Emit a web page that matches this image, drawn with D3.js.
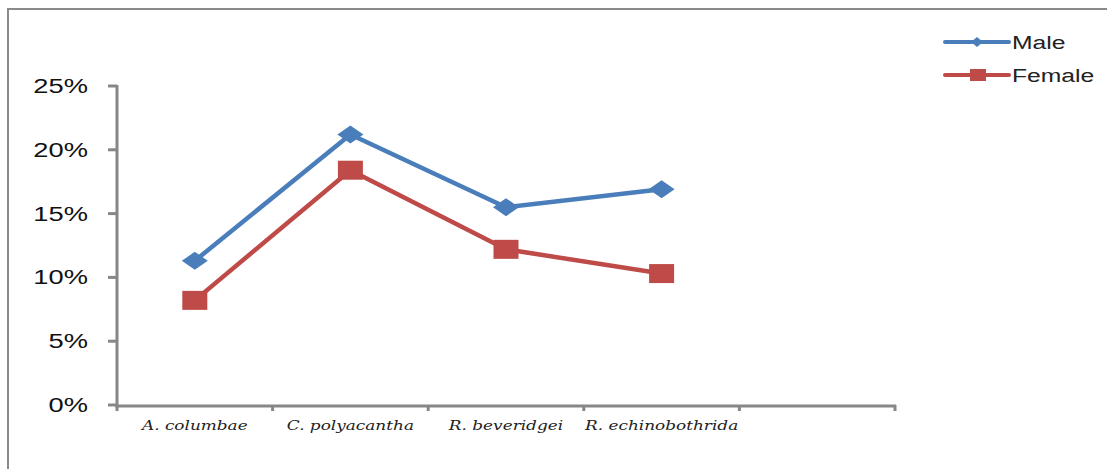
<!DOCTYPE html>
<html>
<head>
<meta charset="utf-8">
<script src="https://cdn.jsdelivr.net/npm/d3@7"></script>
<style>
  html, body { margin: 0; padding: 0; background: #fff; }
  svg { display: block; }
</style>
</head>
<body>
<svg id="chart" width="1107" height="469"></svg>
<script>
// Prevalence by species and sex
const categories = ["A. columbae", "C. polyacantha", "R. beveridgei", "R. echinobothrida"];
const slots = categories.concat([""]);           // axis keeps one empty slot at the end
const maleValues = [0.113, 0.212, 0.155, 0.169];
const femaleValues = [0.082, 0.184, 0.122, 0.103];
const yTicks = [0, 0.05, 0.10, 0.15, 0.20, 0.25];
const seriesNames = ["Male", "Female"];
const seriesColors = ["#4a7ebb", "#be4b48"];

const svg = d3.select("#chart");
const axisColor = "#878787";
const sx = 1.3; // horizontal stretch applied to text

// outer frame (top and left edges)
svg.append("path")
  .attr("d", "M8,469 L8,9 L1107,9")
  .attr("fill", "none")
  .attr("stroke", "#8a8a8a")
  .attr("stroke-width", 2);

const x = d3.scaleBand().domain(slots).range([117, 895]).paddingInner(0).paddingOuter(0);
const y = d3.scaleLinear().domain([0, 0.25]).range([405, 86]);
const cx = d => x(d) + x.bandwidth() / 2;

// y axis
const yAxis = svg.append("g");
yAxis.append("line")
  .attr("x1", 117).attr("x2", 117).attr("y1", y(0.25) - 1).attr("y2", y(0) + 3)
  .attr("stroke", axisColor).attr("stroke-width", 3);
yAxis.selectAll("line.tick").data(yTicks).join("line")
  .attr("class", "tick")
  .attr("x1", 108).attr("x2", 117)
  .attr("y1", d => y(d)).attr("y2", d => y(d))
  .attr("stroke", axisColor).attr("stroke-width", 3);
yAxis.selectAll("text").data(yTicks).join("text")
  .attr("transform", d => `translate(88,${y(d) + 7}) scale(${sx},1)`)
  .attr("text-anchor", "end")
  .attr("font-family", "Liberation Sans, Arial, sans-serif")
  .attr("font-size", 21)
  .attr("fill", "#111")
  .text(d => d3.format(".0%")(d));

// x axis
const xAxis = svg.append("g");
xAxis.append("line")
  .attr("x1", 116).attr("x2", 896).attr("y1", 406).attr("y2", 406)
  .attr("stroke", axisColor).attr("stroke-width", 3);
const boundaries = slots.map(d => x(d)).concat([x.range()[1]]);
xAxis.selectAll("line.tick").data(boundaries).join("line")
  .attr("class", "tick")
  .attr("x1", d => d).attr("x2", d => d)
  .attr("y1", 405).attr("y2", 411)
  .attr("stroke", axisColor).attr("stroke-width", 3);
xAxis.selectAll("text").data(categories).join("text")
  .attr("transform", d => `translate(${cx(d)},${430}) scale(${sx},1)`)
  .attr("text-anchor", "middle")
  .attr("font-family", "DejaVu Serif, serif")
  .attr("font-style", "italic")
  .attr("font-size", 13)
  .attr("fill", "#222")
  .text(d => d);

// series lines and markers
const line = d3.line().x((d, i) => cx(categories[i])).y(d => y(d));
const series = [maleValues, femaleValues];

series.forEach((vals, si) => {
  svg.append("path")
    .datum(vals)
    .attr("d", line)
    .attr("fill", "none")
    .attr("stroke", seriesColors[si])
    .attr("stroke-width", 4.5)
    .attr("stroke-linejoin", "round");
});

// diamonds for Male
svg.selectAll("path.male").data(maleValues).join("path")
  .attr("class", "male")
  .attr("transform", (d, i) => `translate(${cx(categories[i])},${y(d)})`)
  .attr("d", "M-13,0 L0,-9 L13,0 L0,9 Z")
  .attr("fill", seriesColors[0]);

// squares for Female
svg.selectAll("rect.female").data(femaleValues).join("rect")
  .attr("class", "female")
  .attr("x", (d, i) => cx(categories[i]) - 12.5)
  .attr("y", d => y(d) - 9.5)
  .attr("width", 25).attr("height", 19)
  .attr("fill", seriesColors[1]);

// legend
const legend = svg.append("g");
const legendY = [42, 75];
seriesNames.forEach((name, i) => {
  const g = legend.append("g");
  g.append("line")
    .attr("x1", 945).attr("x2", 1009)
    .attr("y1", legendY[i]).attr("y2", legendY[i])
    .attr("stroke", seriesColors[i]).attr("stroke-width", 4)
    .attr("stroke-linecap", "round");
  if (i === 0) {
    g.append("path")
      .attr("transform", `translate(977,${legendY[i]})`)
      .attr("d", "M-6,0 L0,-5 L6,0 L0,5 Z")
      .attr("fill", seriesColors[i]);
  } else {
    g.append("rect")
      .attr("x", 970).attr("y", legendY[i] - 6)
      .attr("width", 16).attr("height", 12)
      .attr("fill", seriesColors[i]);
  }
  g.append("text")
    .attr("transform", `translate(1012,${legendY[i] + 7}) scale(${sx},1)`)
    .attr("font-family", "Liberation Sans, Arial, sans-serif")
    .attr("font-size", 19)
    .attr("fill", "#222")
    .text(name);
});
</script>
</body>
</html>
